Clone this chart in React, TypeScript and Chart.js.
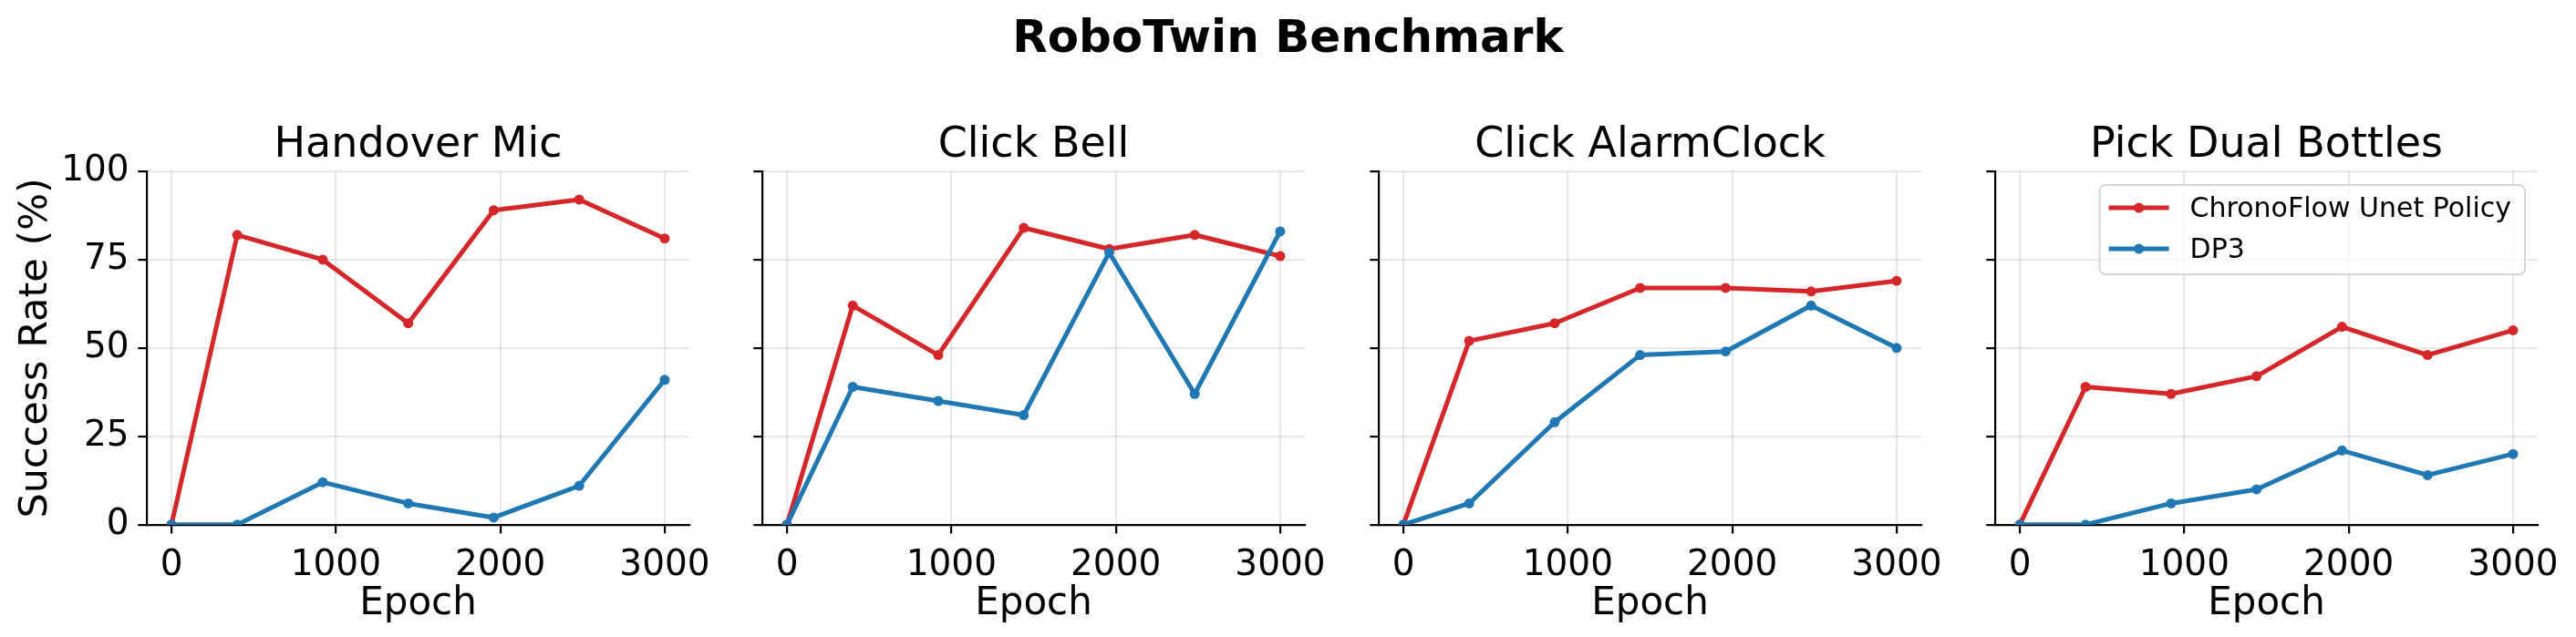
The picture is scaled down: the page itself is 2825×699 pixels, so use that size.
import React, { useEffect, useRef } from "react";
import { Chart, registerables } from "chart.js";

Chart.register(...registerables);

// ---- data ----
const epochs = [0, 400, 920, 1440, 1960, 2480, 3000];
const taskTitles = ["Handover Mic", "Click Bell", "Click AlarmClock", "Pick Dual Bottles"];
const seriesNames = ["ChronoFlow Unet Policy", "DP3"];
const seriesColors = ["#d62728", "#1f77b4"];

const handoverMicChronoFlow = [0, 82, 75, 57, 89, 92, 81];
const handoverMicDP3 = [0, 0, 12, 6, 2, 11, 41];
const clickBellChronoFlow = [0, 62, 48, 84, 78, 82, 76];
const clickBellDP3 = [0, 39, 35, 31, 77, 37, 83];
const clickAlarmClockChronoFlow = [0, 52, 57, 67, 67, 66, 69];
const clickAlarmClockDP3 = [0, 6, 29, 48, 49, 62, 50];
const pickDualBottlesChronoFlow = [0, 39, 37, 42, 56, 48, 55];
const pickDualBottlesDP3 = [0, 0, 6, 10, 21, 14, 20];

const xTicks = [0, 1000, 2000, 3000];
const yTicks = [0, 25, 50, 75, 100];
const xLimits = [-150, 3150];
const yLimits = [0, 100];

const suptitle = "RoboTwin Benchmark";
const xLabel = "Epoch";
const yLabel = "Success Rate (%)";

const panelSeries = [
  [handoverMicChronoFlow, handoverMicDP3],
  [clickBellChronoFlow, clickBellDP3],
  [clickAlarmClockChronoFlow, clickAlarmClockDP3],
  [pickDualBottlesChronoFlow, pickDualBottlesDP3],
];

// ---- style / layout ----
const FONT = '"DejaVu Sans", sans-serif';
const panelLefts = [0, 675, 1351, 2027];
const PAD_RIGHT = 60;
const CANVAS_W = 161 + 595 + PAD_RIGHT;
const CANVAS_H = 699;
const Y_AXIS_W = 161;
const X_AXIS_H = 123.3;
const GRID = "rgba(176,176,176,0.3)";

Chart.defaults.font.family = FONT;

const boxLegend = {
  id: "boxLegend",
  afterDraw(chart: any) {
    const ctx = chart.ctx;
    const area = chart.chartArea;
    const fs = 30;
    ctx.save();
    ctx.font = `${fs}px ${FONT}`;
    const items = chart.data.datasets
      .map((d: any) => ({ label: d.label, color: d.borderColor, idx: d.legendIndex }))
      .sort((a: any, b: any) => a.idx - b.idx);
    const textW = Math.max(...items.map((i: any) => ctx.measureText(i.label).width));
    const padL = 10, handleLen = 66, gap = 23, padR = 15;
    const w = padL + handleLen + gap + textW + padR;
    const right = area.right - 14;
    const left = right - w;
    const top = area.top + 15;
    const h = 98;
    ctx.beginPath();
    ctx.roundRect(left, top, w, h, 6);
    ctx.fillStyle = "rgba(255,255,255,0.8)";
    ctx.fill();
    ctx.lineWidth = 2;
    ctx.strokeStyle = "rgba(204,204,204,0.8)";
    ctx.stroke();
    items.forEach((it: any, i: number) => {
      const y = top + 25 + i * 45;
      const x0 = left + padL;
      ctx.strokeStyle = it.color;
      ctx.lineWidth = 5;
      ctx.lineCap = "butt";
      ctx.beginPath();
      ctx.moveTo(x0, y);
      ctx.lineTo(x0 + handleLen, y);
      ctx.stroke();
      ctx.fillStyle = it.color;
      ctx.beginPath();
      ctx.arc(x0 + handleLen / 2, y, 5.5, 0, Math.PI * 2);
      ctx.fill();
      ctx.fillStyle = "#000";
      ctx.textBaseline = "middle";
      ctx.textAlign = "left";
      ctx.fillText(it.label, x0 + handleLen + gap, y + 2);
    });
    ctx.restore();
  },
};

function Panel({ index }: { index: number }) {
  const ref = useRef<HTMLCanvasElement>(null);
  useEffect(() => {
    const series = panelSeries[index];
    const datasets = series.map((vals, s) => ({
      label: seriesNames[s],
      legendIndex: s,
      data: epochs.map((x, i) => ({ x, y: vals[i] })),
      borderColor: seriesColors[s],
      backgroundColor: seriesColors[s],
      pointBackgroundColor: seriesColors[s],
      borderWidth: 5,
      pointRadius: 5.5,
      pointBorderWidth: 0,
      pointHoverRadius: 5.5,
      borderJoinStyle: "round",
      tension: 0,
      clip: 0,
      order: s === 0 ? 1 : 0,
    }));
    const showY = index === 0;
    const chart = new Chart(ref.current!, {
      type: "line",
      data: { datasets } as any,
      options: {
        animation: false,
        responsive: false,
        devicePixelRatio: 1,
        events: [],
        layout: { padding: { left: 0, right: PAD_RIGHT, top: 0, bottom: 0 } },
        plugins: {
          legend: { display: false },
          tooltip: { enabled: false },
          title: {
            display: true,
            text: taskTitles[index],
            fullSize: false,
            color: "#000",
            font: { family: FONT, size: 46, weight: "normal", lineHeight: 1.2 },
            padding: { top: 132.8, bottom: 0 },
          },
        },
        scales: {
          x: {
            type: "linear",
            min: xLimits[0],
            max: xLimits[1],
            afterBuildTicks: (s: any) => {
              s.ticks = xTicks.map((v) => ({ value: v }));
            },
            afterFit: (s: any) => {
              s.height = X_AXIS_H;
            },
            ticks: {
              color: "#000",
              font: { family: FONT, size: 39 },
              padding: 12.5,
              maxRotation: 0,
              minRotation: 0,
              autoSkip: false,
              callback: (v: any) => String(v),
            },
            grid: { color: GRID, lineWidth: 2.2, tickColor: "#000", tickWidth: 2.2, tickLength: 9.7 },
            border: { color: "#000", width: 2.2 },
            title: {
              display: true,
              text: xLabel,
              color: "#000",
              font: { family: FONT, size: 42, lineHeight: 1.2 },
              padding: { top: 0, bottom: 11 },
            },
          },
          y: {
            type: "linear",
            min: yLimits[0],
            max: yLimits[1],
            afterBuildTicks: (s: any) => {
              s.ticks = yTicks.map((v) => ({ value: v }));
            },
            afterFit: (s: any) => {
              s.width = Y_AXIS_W;
            },
            ticks: {
              display: showY,
              color: "#000",
              font: { family: FONT, size: 39 },
              padding: 9.7,
              callback: (v: any) => String(v),
            },
            grid: { color: GRID, lineWidth: 2.2, tickColor: "#000", tickWidth: 2.2, tickLength: 9.7 },
            border: { color: "#000", width: 2.2 },
            title: {
              display: showY,
              text: yLabel,
              color: "#000",
              font: { family: FONT, size: 43, lineHeight: 1.2 },
              padding: { top: 14.5, bottom: 0 },
            },
          },
        },
      } as any,
      plugins: index === 3 ? [boxLegend] : [],
    });
    return () => chart.destroy();
  }, [index]);
  return (
    <canvas
      ref={ref}
      width={CANVAS_W}
      height={CANVAS_H}
      style={{ position: "absolute", left: panelLefts[index], top: 0, width: CANVAS_W, height: CANVAS_H }}
    />
  );
}

export default function App() {
  return (
    <div
      style={{
        position: "absolute",
        left: 0,
        top: 0,
        width: 2825,
        height: 699,
        background: "#fff",
        overflow: "hidden",
      }}
    >
      <div
        style={{
          position: "absolute",
          left: 0,
          top: 14.7,
          width: 2825,
          textAlign: "center",
          fontFamily: FONT,
          fontWeight: "bold",
          fontSize: 50,
          lineHeight: "50px",
          color: "#000",
          whiteSpace: "nowrap",
        }}
      >
        {suptitle}
      </div>
      {[0, 1, 2, 3].map((i) => (
        <Panel key={i} index={i} />
      ))}
    </div>
  );
}
